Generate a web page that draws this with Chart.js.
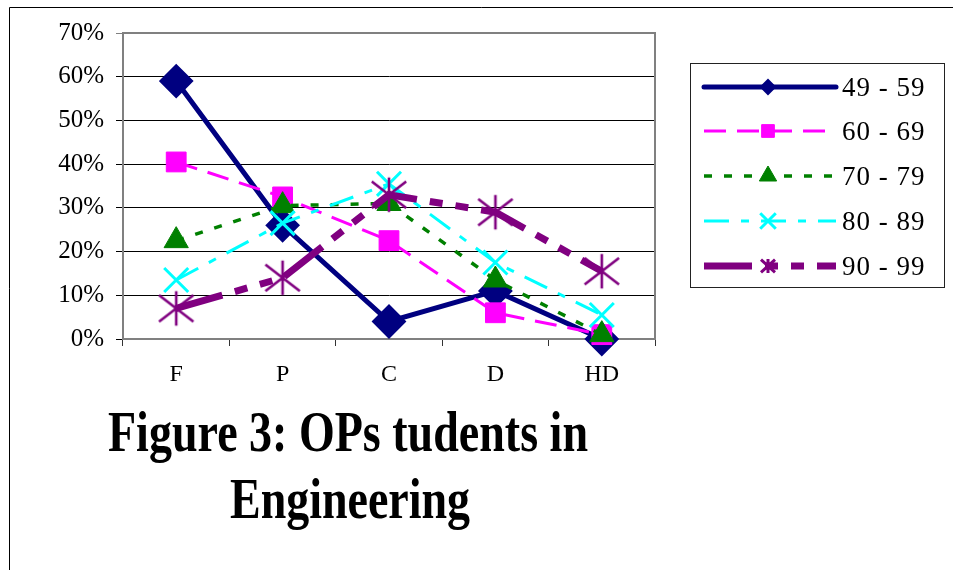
<!DOCTYPE html>
<html>
<head>
<meta charset="utf-8">
<script src="https://cdn.jsdelivr.net/npm/chart.js@4"></script>
<style>
  html, body { margin: 0; padding: 0; background: #fff; }
  #wrap { width: 953px; height: 570px; position: relative; }
</style>
</head>
<body>
<div id="wrap"><canvas id="c" width="953" height="570"></canvas></div>
<script>
// Grade categories and the share of students (percent) in each mark band
const categories = ['F', 'P', 'C', 'D', 'HD'];
const seriesNames = ['49 - 59', '60 - 69', '70 - 79', '80 - 89', '90 - 99'];
const band4959 = [59, 26, 4, 11, 0];
const band6069 = [40.5, 32.5, 22.5, 6, 1];
const band7079 = [22.5, 30.5, 31, 13.5, 1];
const band8089 = [13.5, 26.5, 35.5, 17.5, 5.5];
const band9099 = [7, 14, 33, 29, 15.5];
const yTicks = [0, 10, 20, 30, 40, 50, 60, 70];
const titleLines = ['Figure 3: OPs tudents in', 'Engineering'];

const SERIF = '"Liberation Serif", "Times New Roman", serif';

// Six-armed asterisk marker (vertical bar plus an X)
function makeAsterisk(size, lw, color) {
  const c = document.createElement('canvas');
  c.width = size; c.height = size;
  const g = c.getContext('2d');
  g.strokeStyle = color;
  g.lineWidth = lw;
  const m = lw / 2 + 0.5, s = size;
  g.beginPath();
  g.moveTo(s / 2, m); g.lineTo(s / 2, s - m);
  g.moveTo(m, s * 0.15); g.lineTo(s - m, s * 0.85);
  g.moveTo(m, s * 0.85); g.lineTo(s - m, s * 0.15);
  g.stroke();
  return c;
}
const starBig = makeAsterisk(38, 2.6, '#800080');
const starSmall = makeAsterisk(18, 3, '#800080');

const styles = [
  { color: '#000080', width: 5, dash: [], point: 'rectRot', radius: 16, pbw: 2, lRadius: 7, cap: 'round' },
  { color: '#FF00FF', width: 3, dash: [22, 11], point: 'rect', radius: 14, pbw: 1, lRadius: 9, cap: 'butt' },
  { color: '#008000', width: 3.5, dash: [8, 12], point: 'triangle', radius: 14, pbw: 1, lRadius: 10, cap: 'butt' },
  { color: '#00FFFF', width: 3, dash: [25, 12, 8, 12], point: 'crossRot', radius: 17, pbw: 3, lRadius: 11, cap: 'butt' },
  { color: '#800080', width: 7, dash: [48, 13, 13, 13, 13, 13], point: starBig, radius: 18, pbw: 2, lRadius: 9, cap: 'butt', lPoint: starSmall }
];
const seriesData = [band4959, band6069, band7079, band8089, band9099];

const datasets = seriesData.map((vals, i) => ({
  label: seriesNames[i],
  data: vals,
  borderColor: styles[i].color,
  backgroundColor: styles[i].color,
  borderWidth: styles[i].width,
  borderDash: styles[i].dash,
  borderCapStyle: 'butt',
  pointStyle: styles[i].point,
  pointRadius: styles[i].radius,
  pointBorderWidth: styles[i].pbw,
  pointBackgroundColor: styles[i].color,
  pointBorderColor: styles[i].color,
  tension: 0,
  fill: false,
  clip: false,
  order: seriesData.length - i
}));

// Frame, plot border, legend box and caption
const decorations = {
  id: 'decorations',
  beforeDatasetsDraw(chart) {
    const { ctx, chartArea: a } = chart;
    ctx.save();
    ctx.strokeStyle = '#808080';
    ctx.lineWidth = 2;
    ctx.strokeRect(a.left, a.top, a.right - a.left, a.bottom - a.top);
    ctx.restore();
  },
  afterDraw(chart) {
    const { ctx } = chart;
    ctx.save();
    // outer frame
    ctx.strokeStyle = '#000';
    ctx.lineWidth = 1;
    ctx.beginPath();
    ctx.moveTo(9.5, 570); ctx.lineTo(9.5, 7.5); ctx.lineTo(953, 7.5);
    ctx.stroke();

    // legend
    const lx = 690, ly = 63, lw = 254, lh = 224;
    ctx.strokeStyle = '#222';
    ctx.lineWidth = 1;
    ctx.strokeRect(lx + 0.5, ly + 0.5, lw, lh);
    const rowY = [87, 131, 176, 221, 266];
    chart.data.datasets.forEach((ds, i) => {
      const st = styles[i];
      const y = rowY[i];
      ctx.save();
      ctx.strokeStyle = st.color;
      ctx.lineWidth = st.width;
      ctx.lineCap = st.cap;
      ctx.setLineDash(st.dash);
      ctx.beginPath();
      ctx.moveTo(704, y); ctx.lineTo(836, y);
      ctx.stroke();
      ctx.setLineDash([]);
      ctx.fillStyle = st.color;
      ctx.lineWidth = st.pbw;
      Chart.helpers.drawPoint(ctx, {
        pointStyle: st.lPoint || st.point,
        rotation: 0,
        radius: st.lRadius,
        borderWidth: st.pbw
      }, 768, y);
      ctx.restore();
      ctx.save();
      ctx.fillStyle = '#000';
      ctx.font = '27px ' + SERIF;
      ctx.letterSpacing = '1px';
      ctx.textAlign = 'left';
      ctx.textBaseline = 'alphabetic';
      ctx.fillText(ds.label, 842, y + 9);
      ctx.restore();
    });

    // caption
    ctx.fillStyle = '#000';
    ctx.font = 'bold 57px ' + SERIF;
    ctx.textAlign = 'center';
    ctx.textBaseline = 'alphabetic';
    ctx.fillText(titleLines[0], 348, 451, 480);
    ctx.fillText(titleLines[1], 350, 518, 240);
    ctx.restore();
  }
};

function build() {
  new Chart(document.getElementById('c'), {
    type: 'line',
    data: { labels: categories, datasets },
    options: {
      responsive: false,
      devicePixelRatio: 1,
      animation: false,
      events: [],
      layout: { padding: { left: 0, top: 33, right: 298, bottom: 0 } },
      plugins: { legend: { display: false }, tooltip: { enabled: false }, title: { display: false } },
      scales: {
        x: {
          type: 'category',
          offset: true,
          afterFit(scale) { scale.height = 231; },
          grid: { offset: true, drawOnChartArea: false, drawTicks: true, tickLength: 7, color: '#333', lineWidth: 1 },
          border: { color: '#808080', width: 2 },
          ticks: { color: '#000', font: { family: SERIF, size: 24 }, padding: 14, maxRotation: 0 }
        },
        y: {
          min: 0,
          max: 70,
          afterFit(scale) { scale.width = 123; },
          afterBuildTicks(scale) { scale.ticks = yTicks.map(v => ({ value: v })); },
          grid: {
            color: (c) => (c.tick && c.tick.value === 70 ? '#808080' : '#000'),
            lineWidth: 1,
            tickLength: 7,
            drawTicks: true
          },
          border: { color: '#808080', width: 2 },
          ticks: {
            color: '#000',
            font: { family: SERIF, size: 25 },
            padding: 12,
            callback: (v) => v + '%'
          }
        }
      }
    },
    plugins: [decorations]
  });
}

Promise.all([
  document.fonts.load('24px "Liberation Serif"'),
  document.fonts.load('bold 57px "Liberation Serif"')
]).then(build, build);
</script>
</body>
</html>
